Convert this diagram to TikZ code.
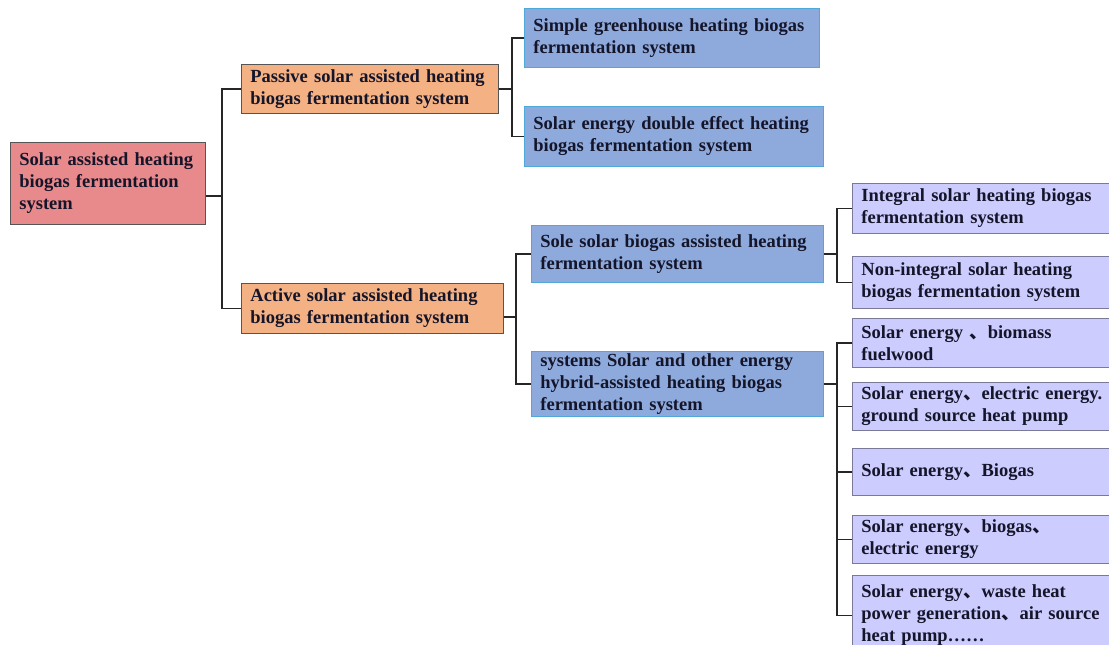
\documentclass[tikz,border=0pt]{standalone}
\usepackage{fontspec}
\setmainfont{Liberation Serif}
\newfontfamily\cjkfont{Noto Sans CJK SC}
\newcommand{\dun}{{\cjkfont 、}}
\definecolor{rootred}{HTML}{E8898B}
\definecolor{orng}{HTML}{F4B183}
\definecolor{blu}{HTML}{8EAADC}
\definecolor{purp}{HTML}{CCCCFF}
\definecolor{edgegray}{HTML}{555555}
\definecolor{edgeblue}{HTML}{4FA8D8}
\definecolor{edgepurp}{HTML}{7A7A98}
\definecolor{txt}{HTML}{15152A}
\begin{document}
\begin{tikzpicture}[x=1pt,y=-1pt,
  box/.style={draw,line width=0.8pt,anchor=north west,inner xsep=9pt,inner ysep=0pt,
    align=left,text=txt,font=\fontsize{18.5}{22}\selectfont\bfseries},
  lvl1/.style={box,fill=orng,draw=edgegray},
  lvl2/.style={box,fill=blu,draw=edgeblue},
  lvl3/.style={box,fill=purp,draw=edgepurp,text width=252pt},
  link/.style={line width=1.3pt,black!85}]
\useasboundingbox (0,0) rectangle (1109,645);
% main box
\node[box,fill=rootred,draw=edgegray,text width=177pt,minimum height=82pt] (root) at (10,142)
  {Solar assisted heating\\biogas fermentation\\system};
% passive / active
\node[lvl1,text width=239pt,minimum height=49pt] (pas) at (241,64)
  {Passive solar assisted heating\\biogas fermentation\ system};
\node[lvl1,text width=244pt,minimum height=50pt] (act) at (241,283)
  {Active solar assisted heating\\biogas fermentation\ system};
% second level
\node[lvl2,text width=277pt,minimum height=59pt] (sim) at (524,8)
  {Simple greenhouse heating biogas\\fermentation\ system};
\node[lvl2,text width=281pt,minimum height=60pt] (dbl) at (524,106)
  {Solar energy double effect heating\\biogas fermentation\ system};
\node[lvl2,text width=274pt,minimum height=57pt] (sole) at (531,225)
  {Sole solar biogas assisted heating\\fermentation\ system};
\node[lvl2,text width=274pt,minimum height=65pt] (hyb) at (531,351)
  {systems Solar and other energy\\hybrid-assisted\ heating biogas\\fermentation system};
% third level
\node[lvl3,minimum height=50pt] (intg) at (852,183)
  {Integral solar heating biogas\\fermentation\ system};
\node[lvl3,minimum height=52pt] (nint) at (852,256)
  {Non-integral solar heating\\biogas fermentation\ system};
\node[lvl3,minimum height=49pt] (bio) at (852,318)
  {Solar energy \dun biomass\\fuelwood};
\node[lvl3,minimum height=48pt] (ele) at (852,382)
  {Solar energy\dun electric energy.\\ground source heat pump};
\node[lvl3,minimum height=47pt] (bgs) at (852,448)
  {Solar energy\dun Biogas};
\node[lvl3,minimum height=48pt] (bge) at (852,515)
  {Solar energy\dun biogas\dun\\electric energy};
\node[lvl3,minimum height=80pt] (wst) at (852,575)
  {Solar energy\dun waste heat\\power generation\dun air source\\heat pump……};
% connectors
\coordinate (j1) at (222,196);
\coordinate (j2) at (512,0);
\coordinate (j3) at (516,317);
\coordinate (j4) at (837,0);
\draw[link] (root.east |- j1) -- (j1) |- (pas.west) (j1) |- (act.west);
\draw[link] (pas.east) -- (pas.east -| j2) |- (sim.west) (pas.east -| j2) |- (dbl.west);
\draw[link] (act.east |- j3) -- (j3) |- (sole.west) (j3) |- (hyb.west);
\draw[link] (sole.east) -- (sole.east -| j4) |- (intg.west) (sole.east -| j4) |- (nint.west);
\draw[link] (hyb.east) -- (hyb.east -| j4) |- (bio.west) (hyb.east -| j4) |- (ele.west)
  (hyb.east -| j4) |- (bgs.west) (hyb.east -| j4) |- (bge.west) (hyb.east -| j4) |- (wst.west);
\end{tikzpicture}
\end{document}
